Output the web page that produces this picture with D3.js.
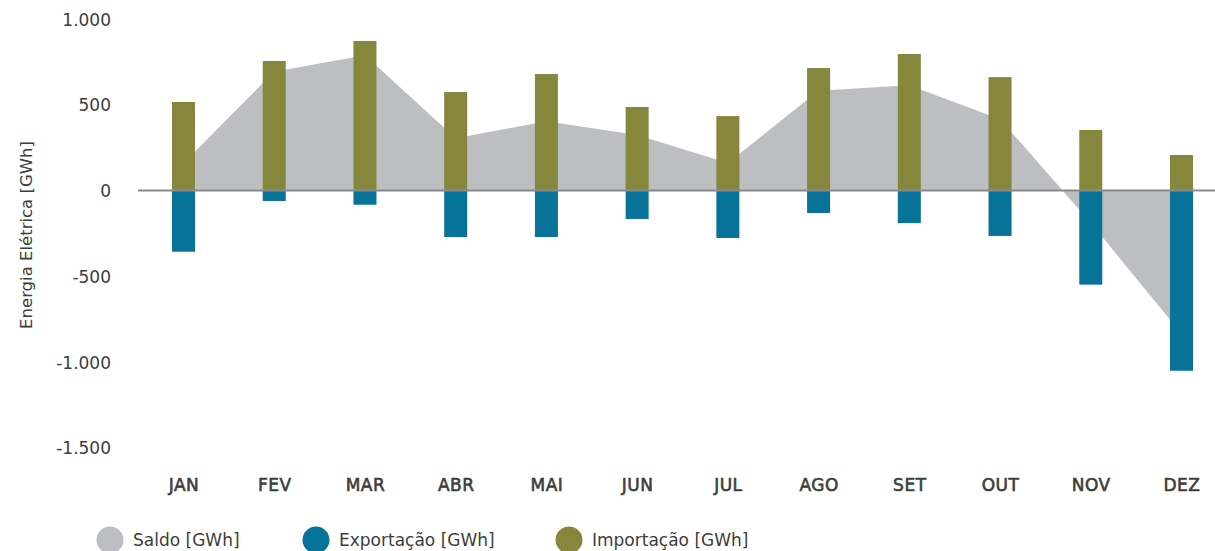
<!DOCTYPE html>
<html>
<head>
<meta charset="utf-8">
<script src="https://cdn.jsdelivr.net/npm/d3@7"></script>
<style>
  html, body { margin: 0; padding: 0; background: #fff; }
  body { width: 1215px; height: 551px; overflow: hidden; }
  text { font-family: "DejaVu Sans", sans-serif; fill: #3d3d3d; }
</style>
</head>
<body>
<div id="chart-area"><svg></svg></div>
<script>
// Data (GWh)
const months = ["JAN", "FEV", "MAR", "ABR", "MAI", "JUN", "JUL", "AGO", "SET", "OUT", "NOV", "DEZ"];
const importacao = [516, 755, 872, 574, 679, 487, 434, 714, 796, 661, 353, 207];
const exportacao = [357, 61, 83, 271, 271, 166, 277, 131, 190, 265, 549, 1051];
const saldo = [159, 693, 789, 305, 404, 324, 161, 581, 613, 416, -188, -836];
const yTicks = [1000, 500, 0, -500, -1000, -1500];
const legendItems = [
    { label: "Saldo [GWh]", color: "#bdbec2", x: 110 },
    { label: "Exportação [GWh]", color: "#077398", x: 316 },
    { label: "Importação [GWh]", color: "#86873c", x: 569 }
];

const width = 1215, height = 551;
const svg = d3.select("#chart-area").select("svg")
    .attr("width", width).attr("height", height);

// Scales
const x = d3.scalePoint().domain(months).range([183.5, 1181.5]);
const y = d3.scaleLinear().domain([-1500, 1000]).range([447.75, 19]);
const barW = 23;
// pt-BR style: dot as thousands separator, plain hyphen for negatives
const fmt = v => d3.format(",")(v).replace(/,/g, ".").replace("\u2212", "-");

// Saldo area
const area = d3.area()
    .x((d, i) => x(months[i]))
    .y0(y(0))
    .y1(d => y(d));
svg.append("path")
    .datum(saldo)
    .attr("d", area)
    .attr("fill", "#bdbec2");

// Import bars
svg.selectAll(".imp").data(importacao).enter().append("rect")
    .attr("class", "imp")
    .attr("x", (d, i) => x(months[i]) - barW / 2)
    .attr("y", d => y(d))
    .attr("width", barW)
    .attr("height", d => y(0) - y(d))
    .attr("fill", "#86873c");

// Export bars (negative)
svg.selectAll(".exp").data(exportacao).enter().append("rect")
    .attr("class", "exp")
    .attr("x", (d, i) => x(months[i]) - barW / 2)
    .attr("y", y(0))
    .attr("width", barW)
    .attr("height", d => y(-d) - y(0))
    .attr("fill", "#077398");

// Zero line
svg.append("line")
    .attr("x1", 138).attr("x2", width)
    .attr("y1", y(0)).attr("y2", y(0))
    .attr("stroke", "#8a8a8c").attr("stroke-width", 2);

// Y axis labels
const yAxis = svg.append("g")
    .attr("transform", "translate(111,0)")
    .call(d3.axisLeft(y).tickValues(yTicks).tickFormat(fmt).tickSize(0).tickPadding(0));
yAxis.select(".domain").remove();
yAxis.selectAll("text").style("font-size", "17px").attr("dy", "0.36em");

// X axis labels (semi-bold look)
const xAxis = svg.append("g")
    .attr("transform", "translate(0,485)")
    .call(d3.axisBottom(x).tickSize(0).tickPadding(0));
xAxis.select(".domain").remove();
xAxis.selectAll("text")
    .attr("y", 0).attr("dy", "0.36em")
    .style("font-size", "17px")
    .style("letter-spacing", "0.5px")
    .style("stroke", "#3d3d3d")
    .style("stroke-width", "0.6px");

// Y title
svg.append("text")
    .attr("transform", "translate(26,235) rotate(-90)")
    .attr("text-anchor", "middle")
    .attr("dy", "0.36em")
    .style("font-size", "16.5px")
    .text("Energia Elétrica [GWh]");

// Legend
const leg = svg.selectAll(".legend").data(legendItems).enter().append("g")
    .attr("class", "legend")
    .attr("transform", d => `translate(${d.x},540)`);
leg.append("circle").attr("r", 13.5).attr("fill", d => d.color);
leg.append("text")
    .attr("x", 23).attr("dy", "0.36em")
    .style("font-size", "17px")
    .text(d => d.label);
</script>
</body>
</html>
